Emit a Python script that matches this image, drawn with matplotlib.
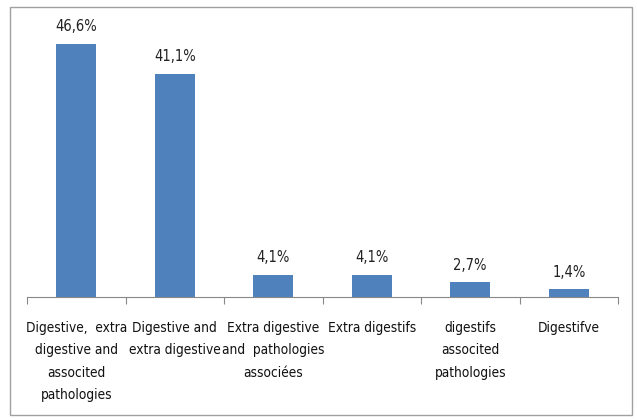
import matplotlib.pyplot as plt
from matplotlib.patches import Rectangle

categories = ['Digestive,  extra\ndigestive and\nassocited\npathologies',
              'Digestive and\nextra digestive',
              'Extra digestive\nand  pathologies\nassociées',
              'Extra digestifs',
              'digestifs\nassocited\npathologies',
              'Digestifve']
values = [46.6, 41.1, 4.1, 4.1, 2.7, 1.4]
value_labels = ['46,6%', '41,1%', '4,1%', '4,1%', '2,7%', '1,4%']

plt.rcParams['font.family'] = ['DejaVu Sans']
plt.rcParams['font.stretch'] = 'condensed'

fig = plt.figure(figsize=(6.37, 4.20), dpi=100)
ax = fig.add_axes([27/637, 1-297/420, 591/637, 271.5/420])

x = range(len(values))
ax.bar(x, values, width=0.41, color='#4F81BD')
for i, v in enumerate(values):
    ax.annotate(value_labels[i], (i, v), xytext=(0, 7), textcoords='offset points',
                ha='center', va='bottom', fontsize=10.5, color='#222222', fontstretch='condensed')

ax.set_xlim(-0.5, 5.5)
ax.set_ylim(0, 50)
for s in ['top', 'right', 'left']:
    ax.spines[s].set_visible(False)
ax.spines['bottom'].set_color('#888888')
ax.set_yticks([])
ax.set_xticks([i - 0.5 for i in range(len(values) + 1)])
ax.set_xticklabels([])
ax.tick_params(axis='x', length=5, color='#888888')
ax.set_xticks(list(x), minor=True)
ax.set_xticklabels(categories, minor=True, fontsize=9.8, color='#111111', linespacing=1.78,
                   fontstretch='condensed')
ax.tick_params(axis='x', which='minor', length=0, pad=17)

fig.patches.append(Rectangle((10/637, 1-415/420), 622/637, 408/420, transform=fig.transFigure,
                             fill=False, edgecolor='#a0a0a0', linewidth=1))

fig.savefig('out.png', dpi=100)
